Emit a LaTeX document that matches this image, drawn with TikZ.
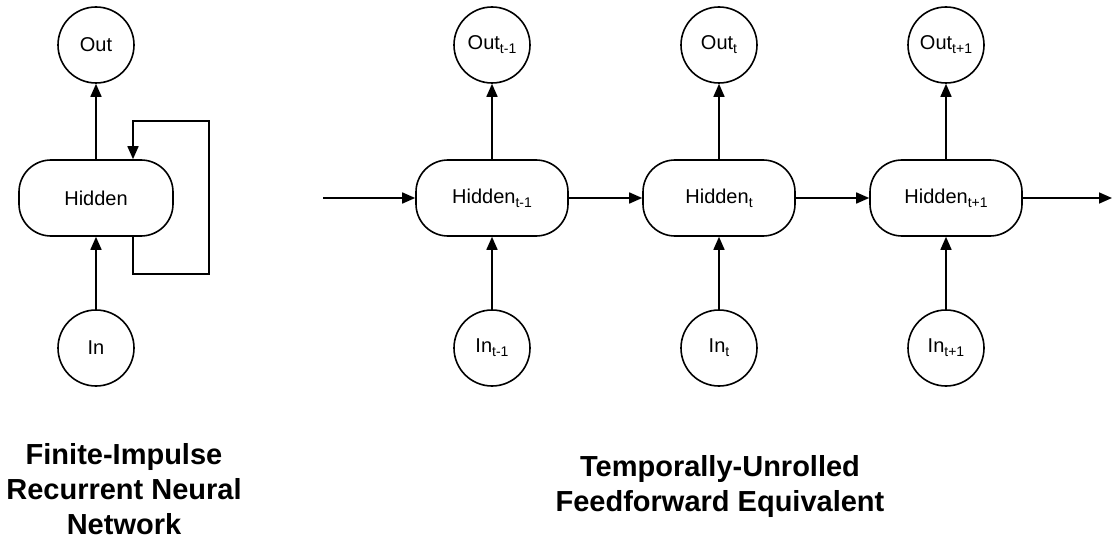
\documentclass[tikz,border=0pt]{standalone}
\usepackage{fontspec}
\setmainfont{Liberation Sans}
\usetikzlibrary{arrows.meta}
\newcommand\sbs[1]{\raisebox{-4pt}{\fontsize{14}{14}\selectfont #1}}
\tikzset{
  conn/.style={line width=1.6pt, -{Triangle[length=13pt,width=11pt]}},
  unit/.style={circle, draw, line width=1.6pt, minimum size=76pt, inner sep=0pt, font=\fontsize{20}{24}\selectfont},
  hid/.style={rectangle, rounded corners=32pt, draw, line width=1.6pt, minimum width=152pt, minimum height=76pt, inner sep=0pt, font=\fontsize{20}{24}\selectfont},
  title/.style={align=center, anchor=north, inner sep=0pt, font=\fontsize{29}{35}\selectfont\bfseries}
}
\begin{document}
\begin{tikzpicture}[x=1pt,y=-1pt]
\useasboundingbox (0,0) rectangle (1113,540);
% left network
\node[unit] (out) at (96,45) {Out};
\node[hid, minimum width=154pt] (hid) at (96,198) {Hidden};
\node[unit] (in) at (96,348) {In};
\draw[conn] (hid) -- (out);
\draw[conn] (in) -- (hid);
\coordinate (fb1) at (133,274);
\coordinate (fb2) at (209,274);
\coordinate (fb3) at (209,121);
\coordinate (fb4) at (133,121);
\draw[conn] (hid.south -| fb1) -- (fb1) -- (fb2) -- (fb3) -- (fb4) -- (hid.north -| fb4);
% unrolled network
\node[unit] (o1) at (492,45) {Out\sbs{t-1}};
\node[unit] (o2) at (719,45) {Out\sbs{t}};
\node[unit] (o3) at (946,45) {Out\sbs{t+1}};
\node[hid] (h1) at (492,198) {Hidden\sbs{t-1}};
\node[hid] (h2) at (719,198) {Hidden\sbs{t}};
\node[hid] (h3) at (946,198) {Hidden\sbs{t+1}};
\node[unit] (i1) at (492,348) {In\sbs{t-1}};
\node[unit] (i2) at (719,348) {In\sbs{t}};
\node[unit] (i3) at (946,348) {In\sbs{t+1}};
\coordinate (start) at (323,198);
\coordinate (finish) at (1112,198);
\draw[conn] (start) -- (h1);
\draw[conn] (h1) -- (h2);
\draw[conn] (h2) -- (h3);
\draw[conn] (h3) -- (finish);
\foreach \k in {1,2,3}{
  \draw[conn] (h\k) -- (o\k);
  \draw[conn] (i\k) -- (h\k);
}
% titles
\node[title] (t1) at (124,443) {Finite-Impulse\\Recurrent Neural\\Network};
\node[title] (t2) at (720,455) {Temporally-Unrolled\\Feedforward Equivalent};
\end{tikzpicture}
\end{document}
